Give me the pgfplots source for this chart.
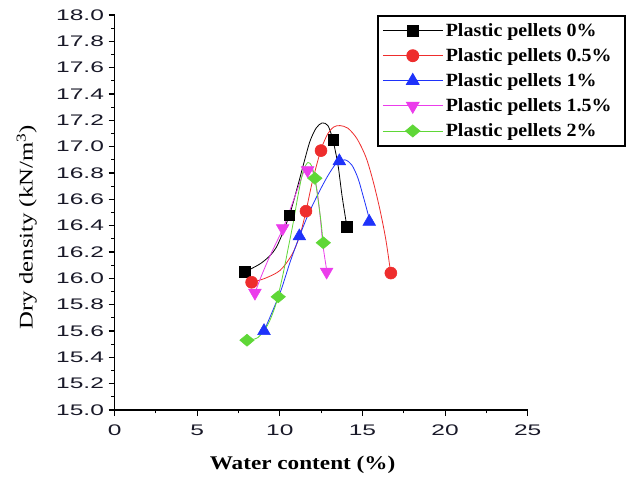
\documentclass[border=0pt]{standalone}
\usepackage{pgfplots}
\pgfplotsset{compat=1.18}
\usepackage{fontspec}
\setmainfont{Liberation Serif}
\newfontfamily\tickfont[FakeStretch=1.6]{Liberation Sans}
\newfontfamily\legfont[FakeStretch=1.07]{Liberation Serif}
\newfontfamily\labfont[FakeStretch=1.2]{Liberation Serif}
\newfontfamily\ylabfont[FakeStretch=1.28]{Liberation Serif}
\newcommand{\leg}[1]{\makebox[129pt][l]{#1}}
\definecolor{cred}{RGB}{238,45,45}
\definecolor{cblue}{RGB}{30,50,250}
\definecolor{cmag}{RGB}{235,60,235}
\definecolor{cgreen}{RGB}{95,215,55}
\definecolor{ctick}{RGB}{25,25,40}
\begin{document}
\begin{tikzpicture}
\path[use as bounding box] (-86pt,-51.75pt) rectangle (396.25pt,307.5pt);
\begin{axis}[
  scale only axis, width=309.75pt, height=296.25pt,
  xmin=0, xmax=25, ymin=15, ymax=18,
  axis x line*=bottom, axis y line*=left,
  axis line style={line width=1pt},
  xtick={0,5,10,15,20,25},
  ytick={15,15.2,15.4,15.6,15.8,16,16.2,16.4,16.6,16.8,17,17.2,17.4,17.6,17.8,18},
  minor tick num=1,
  tick align=outside,
  major tick length=4.5pt, minor tick length=2.5pt,
  tick style={black, line width=0.8pt},
  /pgf/number format/assume math mode=true,
  yticklabel style={/pgf/number format/.cd, fixed, fixed zerofill, precision=1},
  xticklabel style={yshift=-3pt},
  ticklabel style={font=\tickfont\fontsize{11.5}{12}\selectfont, text=ctick},
  every axis x label/.style={at={(axis description cs:0.455,-0.105)}, anchor=north},
  every axis y label/.style={at={(axis description cs:-0.213,0.463)}, rotate=90, anchor=center},
  xlabel={\labfont\fontsize{14.5}{15}\selectfont\bfseries Water content (\%)},
  ylabel={\ylabfont\fontsize{14.5}{15}\selectfont\mdseries Dry density (kN/m\textsuperscript{3})},
  legend style={at={(rel axis cs:0.635,1)}, anchor=north west, draw=black, line width=1.2pt,
    font=\legfont\fontsize{14}{15}\selectfont\bfseries, row sep=3.6pt, inner sep=3.5pt},
  legend cell align=left,
  legend image code/.code={\draw[mark repeat=2,mark phase=2,#1] plot coordinates {(0cm,0cm) (0.79cm,0cm) (1.58cm,0cm)};},
]
% curves
\addplot[black, line width=0.6pt, smooth, forget plot] coordinates {
(7.89,16.05) (8.92,16.12) (9.76,16.23) (10.55,16.47) (11.10,16.71) (11.46,16.88) (11.82,17.04)
(12.19,17.14) (12.55,17.18) (12.91,17.16) (13.21,17.05) (13.52,16.86) (13.76,16.63) (14.06,16.39)};
\addplot[cred, line width=0.6pt, smooth, forget plot] coordinates {
(8.31,15.97) (9.10,16.00) (10.01,16.06) (10.73,16.18) (11.22,16.33) (11.58,16.51) (11.94,16.72)
(12.31,16.90) (12.55,17.00) (12.91,17.10) (13.27,17.15) (13.64,17.16) (14.12,17.14) (14.67,17.06)
(15.21,16.92) (15.64,16.74) (16.06,16.52) (16.42,16.29) (16.72,16.03)};
\addplot[cblue, line width=0.6pt, smooth, forget plot] coordinates {
(9.04,15.60) (9.52,15.74) (10.07,15.91) (10.61,16.12) (11.16,16.31) (11.70,16.48) (12.31,16.64)
(12.91,16.78) (13.46,16.88) (13.94,16.90) (14.36,16.86) (14.73,16.76) (15.03,16.63) (15.27,16.52) (15.45,16.43)};
\addplot[cmag, line width=0.6pt, smooth, forget plot] coordinates {
(8.49,15.89) (8.92,16.03) (9.40,16.17) (10.19,16.38) (10.73,16.56) (11.16,16.71) (11.46,16.81)
(11.76,16.84) (12.00,16.81) (12.25,16.67) (12.43,16.48) (12.61,16.25) (12.85,16.05)};
\addplot[cgreen, line width=0.6pt, smooth, forget plot] coordinates {
(8.01,15.53) (8.67,15.55) (9.28,15.65) (9.70,15.78) (9.88,15.86) (10.19,16.03) (10.49,16.22)
(10.79,16.41) (11.10,16.63) (11.40,16.81) (11.70,16.88) (11.94,16.85) (12.12,16.76) (12.31,16.60)
(12.49,16.43) (12.61,16.28)};
% measured points
\addplot[only marks, mark=square*, mark size=4pt, black, forget plot] coordinates {
(7.89,16.05) (10.57,16.48) (13.23,17.05) (14.04,16.39)};
\addplot[only marks, mark=*, mark size=4.5pt, cred, forget plot] coordinates {
(8.29,15.97) (11.58,16.51) (12.49,16.97) (16.72,16.04)};
\addplot[only marks, mark=triangle*, mark size=5.5pt, cblue, forget plot] coordinates {
(9.04,15.60) (11.18,16.32) (13.60,16.89) (15.41,16.43)};
\addplot[only marks, mark=triangle*, mark size=5.5pt, mark options={rotate=180}, cmag, forget plot] coordinates {
(8.49,15.89) (10.17,16.38) (11.68,16.82) (12.83,16.05)};
\addplot[only marks, mark=diamond*, mark size=4.5pt, mark options={xscale=1.6}, cgreen, forget plot] coordinates {
(8.01,15.53) (9.90,15.86) (12.12,16.76) (12.63,16.27)};
% legend
\addlegendimage{black, line width=0.6pt, mark=square*, mark size=4pt}
\addlegendentry{\leg{Plastic pellets 0\%}}
\addlegendimage{cred, line width=0.6pt, mark=*, mark size=4.5pt}
\addlegendentry{\leg{Plastic pellets 0.5\%}}
\addlegendimage{cblue, line width=0.6pt, mark=triangle*, mark size=5.5pt}
\addlegendentry{\leg{Plastic pellets 1\%}}
\addlegendimage{cmag, line width=0.6pt, mark=triangle*, mark size=5.5pt, mark options={rotate=180}}
\addlegendentry{\leg{Plastic pellets 1.5\%}}
\addlegendimage{cgreen, line width=0.6pt, mark=diamond*, mark size=4.5pt, mark options={xscale=1.6}}
\addlegendentry{\leg{Plastic pellets 2\%}}
\end{axis}
\end{tikzpicture}
\end{document}
